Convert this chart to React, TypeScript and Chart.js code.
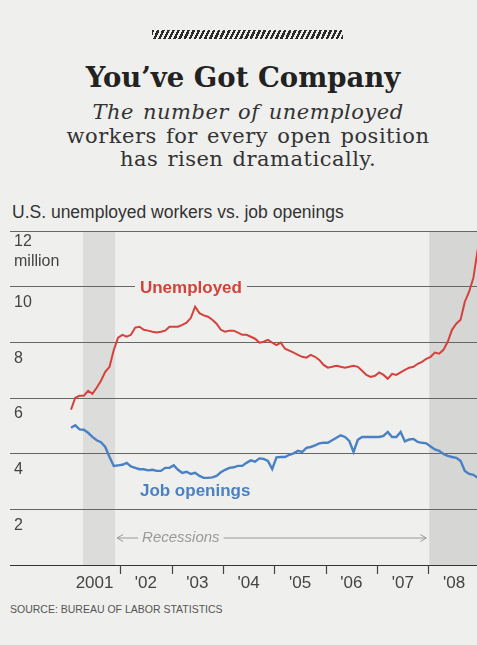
import React, { useEffect, useRef } from "react";
import { Chart, registerables } from "chart.js";
Chart.register(...registerables);

// Monthly values, Jan 2001 .. Dec 2008 (millions)
const unemployed = [
  5.58, 6.01, 6.08, 6.08, 6.26, 6.15, 6.37, 6.62, 6.94, 7.12, 7.73, 8.17,
  8.27, 8.2, 8.27, 8.53, 8.56, 8.45, 8.42, 8.38, 8.35, 8.38, 8.42, 8.56,
  8.56, 8.56, 8.63, 8.71, 8.88, 9.28, 9.05, 8.97, 8.92, 8.81, 8.67, 8.45,
  8.38, 8.42, 8.42, 8.35, 8.27, 8.27, 8.2, 8.13, 7.99, 8.02, 8.09, 7.99,
  7.9, 7.99, 7.77, 7.7, 7.63, 7.55, 7.48, 7.45, 7.55, 7.48, 7.37, 7.19,
  7.09, 7.12, 7.16, 7.12, 7.09, 7.12, 7.16, 7.12, 6.98, 6.83, 6.76, 6.8,
  6.92, 6.83, 6.69, 6.87, 6.83, 6.92, 7.01, 7.09, 7.12, 7.23, 7.3, 7.41,
  7.48, 7.63, 7.59, 7.73, 8.02, 8.45, 8.67, 8.81, 9.46, 9.82, 10.32, 11.33,
];
const jobOpenings = [
  4.93, 5.02, 4.87, 4.86, 4.75, 4.6, 4.48, 4.41, 4.24, 3.88, 3.56, 3.58,
  3.6, 3.67, 3.54, 3.49, 3.44, 3.44, 3.4, 3.42, 3.38, 3.38, 3.49, 3.49,
  3.58, 3.42, 3.31, 3.35, 3.27, 3.31, 3.2, 3.13, 3.13, 3.15, 3.2, 3.33,
  3.42, 3.49, 3.51, 3.56, 3.56, 3.67, 3.76, 3.71, 3.83, 3.81, 3.74, 3.45,
  3.87, 3.88, 3.88, 3.96, 4.01, 4.1, 4.06, 4.21, 4.24, 4.3, 4.37, 4.39,
  4.39, 4.48, 4.57, 4.66, 4.6, 4.46, 4.06, 4.5, 4.6, 4.6, 4.6, 4.6,
  4.6, 4.64, 4.78, 4.6, 4.6, 4.78, 4.44, 4.51, 4.53, 4.42, 4.39, 4.37,
  4.26, 4.15, 4.1, 3.99, 3.92, 3.88, 3.85, 3.74, 3.38, 3.27, 3.24, 3.13,
];
const yearLabels = ["2001", "'02", "'03", "'04", "'05", "'06", "'07", "'08"];
const yearBoundaries = [12, 24, 36, 48, 60, 72, 84]; // months since Jan 2001
const yTickValues = [2, 4, 6, 8, 10, 12];
const yUnit = "million";
const recessions: [number, number][] = [
  [3.3, 10.8],
  [84.2, 100],
];

const BG = "#efefed";
const RED = "#d5413b";
const BLUE = "#4a80c4";
const SANS = '"Liberation Sans", Arial, sans-serif';

function arrowHead(ctx: CanvasRenderingContext2D, x: number, y: number, dir: number) {
  ctx.beginPath();
  ctx.moveTo(x + dir * 6, y - 3.5);
  ctx.lineTo(x, y);
  ctx.lineTo(x + dir * 6, y + 3.5);
  ctx.stroke();
}

export default function App() {
  const ref = useRef<HTMLCanvasElement>(null);
  useEffect(() => {
    const canvas = ref.current!;
    const pts = (arr: number[]) => arr.map((v, i) => ({ x: i + 0.5, y: v }));
    const decor = {
      id: "decor",
      beforeDraw(chart: any) {
        const { ctx, chartArea: a, scales } = chart;
        const x = scales.x;
        ctx.save();
        recessions.forEach(([s, e], k) => {
          ctx.fillStyle = k === 0 ? "#dcdcda" : "#d6d6d4";
          const x0 = Math.max(a.left, x.getPixelForValue(s));
          const x1 = Math.min(a.right, x.getPixelForValue(e));
          ctx.fillRect(x0, a.top, x1 - x0, a.bottom - a.top);
        });
        ctx.restore();
      },
      afterDraw(chart: any) {
        const { ctx, chartArea: a, scales } = chart;
        const x = scales.x;
        const y = scales.y;
        ctx.save();
        // y labels
        ctx.font = `16px ${SANS}`;
        ctx.fillStyle = "#444";
        ctx.textAlign = "left";
        ctx.textBaseline = "middle";
        for (const t of yTickValues) {
          const py = y.getPixelForValue(t);
          if (t === 12) {
            ctx.fillText(String(t), 14, py + 11);
            ctx.fillText(yUnit, 14, py + 31);
          } else {
            ctx.fillText(String(t), 14, py + 16);
          }
        }
        // x tick marks
        ctx.strokeStyle = "#444";
        ctx.lineWidth = 1.2;
        for (const b of yearBoundaries) {
          const px = Math.round(x.getPixelForValue(b)) + 0.5;
          ctx.beginPath();
          ctx.moveTo(px, a.bottom);
          ctx.lineTo(px, a.bottom + 9);
          ctx.stroke();
        }
        // year labels
        ctx.font = `17px ${SANS}`;
        ctx.fillStyle = "#444";
        ctx.textAlign = "center";
        yearLabels.forEach((lab, k) => {
          ctx.fillText(lab, x.getPixelForValue(6 + 12 * k), a.bottom + 18);
        });
        // series labels
        ctx.textAlign = "left";
        ctx.font = `bold 17px ${SANS}`;
        const ux = x.getPixelForValue(16.6);
        const uy = y.getPixelForValue(10);
        const uw = ctx.measureText("Unemployed").width;
        ctx.fillStyle = BG;
        ctx.fillRect(ux - 5, uy - 3, uw + 10, 6);
        ctx.fillStyle = RED;
        ctx.fillText("Unemployed", ux, uy + 2);
        ctx.fillStyle = BLUE;
        ctx.fillText("Job openings", ux, y.getPixelForValue(2.63));
        // recessions
        const ry = y.getPixelForValue(0.97);
        ctx.font = `italic 15px ${SANS}`;
        ctx.fillStyle = "#999";
        const tx = x.getPixelForValue(17.1);
        const tw = ctx.measureText("Recessions").width;
        ctx.fillText("Recessions", tx, ry);
        ctx.strokeStyle = "#999";
        ctx.lineWidth = 1;
        const l0 = x.getPixelForValue(recessions[0][1]) + 2;
        const r1 = x.getPixelForValue(recessions[1][0]) - 3;
        ctx.beginPath();
        ctx.moveTo(l0, ry);
        ctx.lineTo(tx - 4, ry);
        ctx.stroke();
        arrowHead(ctx, l0, ry, 1);
        ctx.beginPath();
        ctx.moveTo(tx + tw + 4, ry);
        ctx.lineTo(r1, ry);
        ctx.stroke();
        arrowHead(ctx, r1, ry, -1);
        ctx.restore();
      },
    };
    const chart = new Chart(canvas, {
      type: "line",
      data: {
        datasets: [
          {
            label: "Unemployed",
            data: pts(unemployed),
            borderColor: RED,
            borderWidth: 2,
            pointRadius: 0,
            tension: 0,
          },
          {
            label: "Job openings",
            data: pts(jobOpenings),
            borderColor: BLUE,
            borderWidth: 2.4,
            pointRadius: 0,
            tension: 0,
          },
        ],
      },
      options: {
        animation: false,
        responsive: false,
        layout: { padding: { left: 10, right: 0, top: 9, bottom: 35 } },
        plugins: { legend: { display: false }, tooltip: { enabled: false } },
        scales: {
          x: { type: "linear", min: -13.75, max: 95.34, display: false },
          y: {
            min: 0,
            max: 12,
            ticks: { display: false, stepSize: 2 },
            border: { display: false },
            grid: {
              drawTicks: false,
              color: (c: any) => (c.tick && c.tick.value === 0 ? "#333" : "#666"),
              lineWidth: 1,
            },
          },
        },
      },
      plugins: [decor],
    });
    return () => chart.destroy();
  }, []);

  return (
    <div
      style={{
        position: "fixed",
        left: 0,
        top: 0,
        width: 477,
        height: 645,
        background: BG,
        overflow: "hidden",
      }}
    >
      <div
        style={{
          position: "absolute",
          left: 152,
          top: 30,
          width: 191,
          height: 9,
          background: "repeating-linear-gradient(115deg, #2a2a2a 0 2.4px, transparent 2.4px 4.6px)",
        }}
      />
      <div
        style={{
          position: "absolute",
          left: 0,
          width: 486,
          top: 61,
          textAlign: "center",
          font: 'bold 27.5px "DejaVu Serif", serif',
          lineHeight: "32px",
          color: "#222",
          whiteSpace: "nowrap",
        }}
      >
        You’ve Got Company
      </div>
      <div
        style={{
          position: "absolute",
          left: 0,
          width: 496,
          top: 101,
          textAlign: "center",
          font: '21px "DejaVu Serif", serif',
          lineHeight: "23.5px",
          letterSpacing: "0.5px",
          wordSpacing: "2px",
          color: "#333",
          whiteSpace: "nowrap",
        }}
      >
        <i>The number of unemployed</i>
        <br />
        workers for every open position
        <br />
        has risen dramatically.
      </div>
      <div
        style={{
          position: "absolute",
          left: 12,
          top: 203,
          font: `17.5px ${SANS}`,
          lineHeight: "19px",
          color: "#333",
          whiteSpace: "nowrap",
        }}
      >
        U.S. unemployed workers vs. job openings
      </div>
      <canvas
        ref={ref}
        width={477}
        height={378}
        style={{ position: "absolute", left: 0, top: 222 }}
      />
      <div
        style={{
          position: "absolute",
          left: 10,
          top: 603,
          font: `10.5px ${SANS}`,
          lineHeight: "12px",
          color: "#555",
          whiteSpace: "nowrap",
        }}
      >
        SOURCE: BUREAU OF LABOR STATISTICS
      </div>
    </div>
  );
}
